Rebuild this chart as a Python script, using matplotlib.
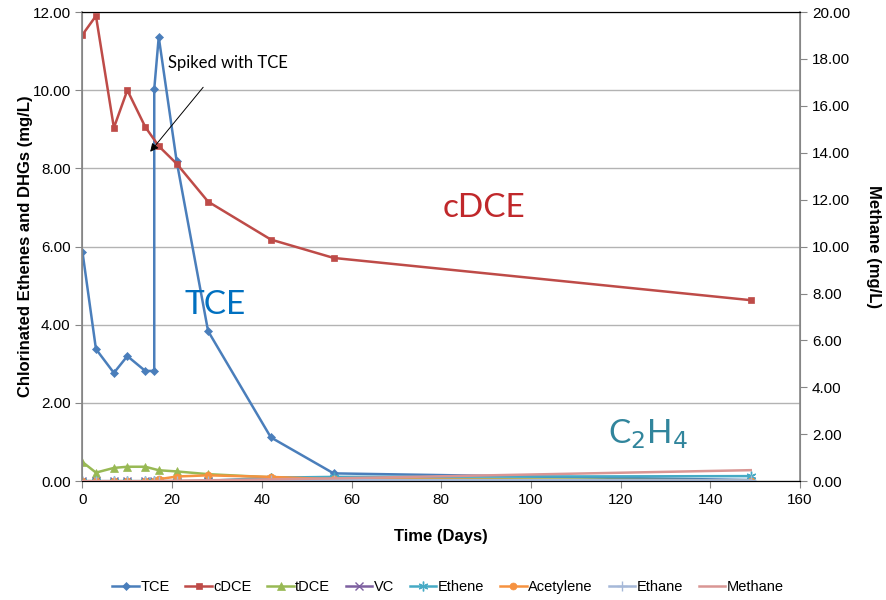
import numpy as np
import matplotlib
matplotlib.use("Agg")
import matplotlib.pyplot as plt

# sampling days (day 16 appears twice: before and after the TCE spike)
days = [0, 3, 7, 10, 14, 16, 16, 17, 21, 28, 42, 56, 149]

tce       = [5.86, 3.38, 2.77, 3.20, 2.82, 2.82, 10.03, 11.36, 8.18, 3.84, 1.12, 0.20, 0.03]
cdce      = [11.42, 11.90, 9.04, 10.00, 9.06, None, None, 8.57, 8.12, 7.15, 6.18, 5.71, 4.63]
tdce      = [0.49, 0.22, 0.34, 0.37, 0.37, None, None, 0.28, 0.25, 0.18, 0.10, 0.07, 0.02]
vc        = [0.0, 0.0, 0.0, 0.0, 0.0, 0.0, None, 0.0, 0.0, 0.0, 0.02, 0.01, 0.0]
ethene    = [0.0, 0.0, 0.0, 0.0, 0.0, 0.0, None, 0.0, 0.0, 0.01, 0.09, 0.11, 0.13]
acetylene = [0.0, 0.0, 0.0, 0.0, 0.0, 0.0, None, 0.05, 0.12, 0.15, 0.11, 0.05, 0.01]
ethane    = [0.0, 0.0, 0.0, 0.0, 0.0, 0.0, None, 0.0, 0.0, 0.0, 0.02, 0.03, 0.02]
methane   = [0.0, 0.0, 0.0, 0.0, 0.0, 0.0, None, 0.01, 0.02, 0.04, 0.08, 0.12, 0.47]

left_ticks = np.arange(0, 12.01, 2)
right_ticks = np.arange(0, 20.01, 2)
x_ticks = np.arange(0, 161, 20)

plt.rcParams['font.family'] = ['Liberation Sans', 'DejaVu Sans']


def series(vals):
    xs = [d for d, v in zip(days, vals) if v is not None]
    ys = [v for v in vals if v is not None]
    return xs, ys


fig = plt.figure(figsize=(8.87, 6.0), dpi=100)
ax = fig.add_axes([0.093, 0.198, 0.809, 0.782])
ax2 = ax.twinx()

styles = [
    ("TCE", tce, "#4a7ebb", "D", 4),
    ("cDCE", cdce, "#be4b48", "s", 5),
    ("tDCE", tdce, "#98b954", "^", 6),
    ("VC", vc, "#7d60a0", "x", 6),
    ("Ethene", ethene, "#46aac5", (6, 2, 0), 7),
    ("Acetylene", acetylene, "#f69240", "o", 5),
    ("Ethane", ethane, "#a5b8d8", "+", 7),
]
handles = []
for name, vals, col, mk, ms in styles:
    xs, ys = series(vals)
    (ln,) = ax.plot(xs, ys, color=col, lw=1.8, marker=mk, ms=ms,
                    mew=1.0 if mk in ("x", "+") or isinstance(mk, tuple) else 0.5,
                    mec=col, mfc=col, label=name, zorder=3)
    handles.append(ln)

xs, ys = series(methane)
(ln,) = ax2.plot(xs, ys, color="#d99694", lw=1.8, label="Methane", zorder=3)
handles.append(ln)

ax.set_xlim(0, 160)
ax.set_ylim(0, 12)
ax2.set_ylim(0, 20)
ax.set_xticks(x_ticks)
ax.set_yticks(left_ticks)
ax2.set_yticks(right_ticks)
ax.set_yticklabels([f"{v:.2f}" for v in left_ticks])
ax2.set_yticklabels([f"{v:.2f}" for v in right_ticks])
ax.tick_params(labelsize=11, length=5, color="#868686", direction="out")
ax2.tick_params(labelsize=11, length=5, color="#868686", direction="out")

ax.grid(axis="y", color="#b3b3b3", lw=1.0)
ax.set_axisbelow(True)
for sp in ("left", "right"):
    ax.spines[sp].set_color("#868686")
    ax2.spines[sp].set_color("#868686")
for sp in ("top", "bottom"):
    ax.spines[sp].set_color("black")
    ax2.spines[sp].set_color("black")
ax.spines["left"].set_linewidth(1.2)
ax2.spines["right"].set_linewidth(1.2)

ax.set_xlabel("Time (Days)", fontsize=12, fontweight="bold", labelpad=16)
ax.set_ylabel("Chlorinated Ethenes and DHGs (mg/L)", fontsize=12, fontweight="bold", labelpad=0)
ax2.set_ylabel("Methane (mg/L)", fontsize=12, fontweight="bold", rotation=270, labelpad=22)

# series name callouts
ax.text(29.5, 4.5, "TCE", color="#0070c0", fontsize=24, family="Lato", ha="center", va="center")
ax.text(89.5, 7.0, "cDCE", color="#c0282b", fontsize=24, family="Lato", ha="center", va="center")
ax.text(126, 1.2, r"C$_2$H$_4$", color="#31859c", fontsize=24, family="Lato", ha="center", va="center")

# spike annotation
ax.text(19.0, 10.7, "Spiked with TCE", fontsize=12, family="Lato", ha="left", va="center")
ax.annotate("", xy=(14.7, 8.37), xytext=(27.3, 10.13),
            arrowprops=dict(arrowstyle="-|>", color="black", lw=0.7, mutation_scale=12))

fig.legend(handles=handles, loc="lower center", bbox_to_anchor=(0.505, -0.012), ncol=8,
           frameon=False, fontsize=10.5, handlelength=1.8, handletextpad=0.1,
           columnspacing=1.1)

fig.savefig("out.png", dpi=100)
